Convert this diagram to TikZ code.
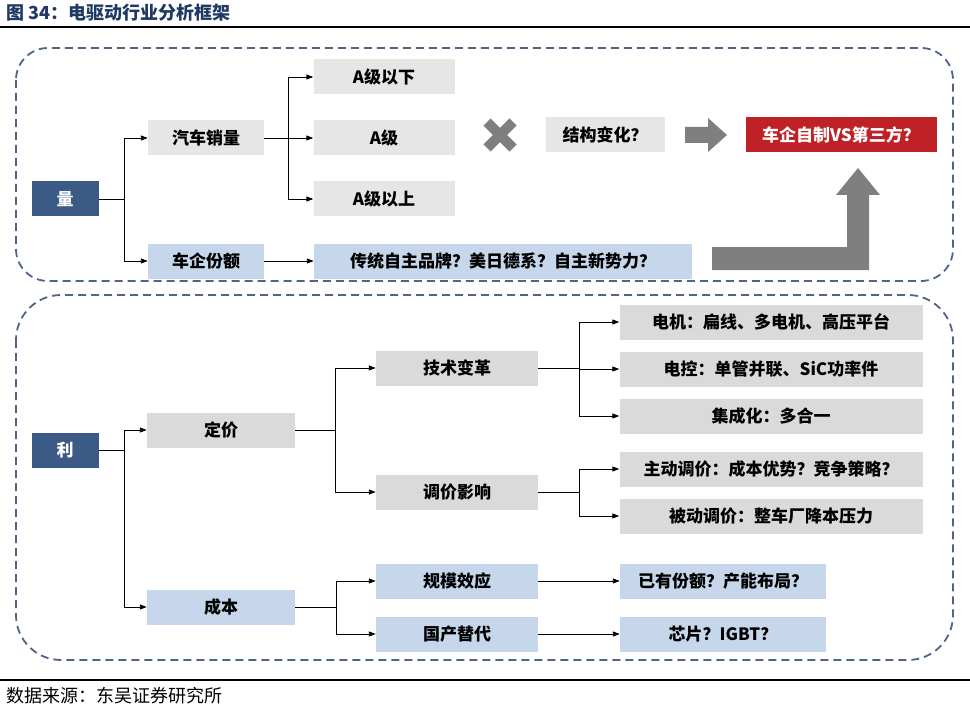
\documentclass[tikz,border=0pt]{standalone}
\usepackage{fontspec}
\setmainfont{Noto Sans CJK SC}
\usetikzlibrary{arrows.meta}
\definecolor{cNavy}{HTML}{3B5A85}
\definecolor{cLB}{HTML}{C6D7EC}
\definecolor{cG1}{HTML}{E6E6E6}
\definecolor{cG2}{HTML}{DADADA}
\definecolor{cRed}{HTML}{BE2126}
\definecolor{cArr}{HTML}{7F7F7F}
\definecolor{cDash}{HTML}{4F6585}
\definecolor{cTitle}{HTML}{1F3864}
\tikzset{
  box/.style={inner sep=0pt,minimum height=35pt,font=\fontsize{17}{17}\selectfont\bfseries},
  gbox/.style={box,fill=cG1},
  dbox/.style={box,fill=cG2},
  lbox/.style={box,fill=cLB},
  nbox/.style={box,fill=cNavy,text=white,minimum width=67pt},
  conn/.style={line width=.9pt,-{Triangle[length=7pt,width=5pt]}},
  seg/.style={line width=.9pt},
  frame/.style={draw=cDash,line width=1.8pt,dash pattern=on 8pt off 5pt},
}
\begin{document}
\begin{tikzpicture}[x=1pt,y=-1pt]
\useasboundingbox (0,0) rectangle (970,706);
% --- header and footer ---
\node[anchor=west,text=cTitle,font=\fontsize{18}{18}\selectfont\bfseries] (title) at (3,13) {图 34：电驱动行业分析框架};
\draw[line width=2pt] (0,27) -- (970,27);
\draw[line width=2pt] (0,680) -- (970,680);
\node[anchor=west,font=\fontsize{18}{18}\selectfont] (src) at (3,696) {数据来源：东吴证券研究所};
% --- frames ---
\draw[frame,rounded corners=32pt] (16,48) rectangle (953,281);
\draw[frame,rounded corners=45pt] (16,295) rectangle (953,660);
% --- top: volume ---
\node[nbox] (liang) at (65,199) {量};
\node[gbox,minimum width=116pt] (qcxl) at (206,138) {汽车销量};
\node[lbox,minimum width=116pt] (cqfe) at (206,261) {车企份额};
\node[gbox,minimum width=141pt] (ajx) at (384,77) {A级以下};
\node[gbox,minimum width=141pt] (aj) at (384,138) {A级};
\node[gbox,minimum width=141pt] (ajs) at (384,199) {A级以上};
\node[lbox,minimum width=378pt] (pp) at (503,261) {传统自主品牌？美日德系？自主新势力？};
\node[gbox,minimum width=119pt] (jg) at (605,135) {结构变化？};
\node[box,fill=cRed,text=white,minimum width=191pt] (zz) at (841,135) {车企自制VS第三方？};
\coordinate (j1) at (124,199);
\coordinate (j2) at (288,138);
\draw[seg] (liang) -- (j1);
\draw[conn] (j1) |- (qcxl);
\draw[conn] (j1) |- (cqfe);
\draw[seg] (qcxl) -- (j2);
\foreach \t in {ajx,aj,ajs}{\draw[conn] (j2) |- (\t);}
\draw[conn] (cqfe) -- (pp);
% cross and block arrows
\draw[cArr,line width=10pt] (487,122) -- (513,148) (487,148) -- (513,122);
\fill[cArr] (685,127) -- (708,127) -- (708,118) -- (727,135) -- (708,152) -- (708,143) -- (685,143) -- cycle;
\fill[cArr] (712,247) -- (847,247) -- (847,195) -- (836,195) -- (858,168) -- (880,195) -- (869,195) -- (869,270) -- (712,270) -- cycle;
% --- bottom: profit ---
\node[nbox] (li) at (65,450) {利};
\node[dbox,minimum width=148pt] (dj) at (221,430) {定价};
\node[lbox,minimum width=148pt] (cb) at (221,607) {成本};
\node[dbox,minimum width=162pt] (js) at (457,368) {技术变革};
\node[dbox,minimum width=162pt] (tj) at (457,492) {调价影响};
\node[lbox,minimum width=162pt] (gm) at (457,581) {规模效应};
\node[lbox,minimum width=162pt] (gc) at (457,634) {国产替代};
\node[dbox,minimum width=303pt] (dm) at (771,322) {电机：扁线、多电机、高压平台};
\node[dbox,minimum width=303pt] (dk) at (771,369) {电控：单管并联、SiC功率件};
\node[dbox,minimum width=303pt] (jc) at (771,416) {集成化：多合一};
\node[dbox,minimum width=303pt] (zd) at (771,469) {主动调价：成本优势？竞争策略？};
\node[dbox,minimum width=303pt] (bd) at (771,516) {被动调价：整车厂降本压力};
\node[lbox,minimum width=206pt] (yy) at (723,581) {已有份额？产能布局？};
\node[lbox,minimum width=206pt] (xp) at (723,634) {芯片？IGBT？};
\coordinate (j3) at (124,450);
\coordinate (j4) at (335,430);
\coordinate (j5) at (579,368);
\coordinate (j6) at (579,492);
\coordinate (j7) at (336,607);
\draw[seg] (li) -- (j3);
\draw[conn] (j3) |- (dj);
\draw[conn] (j3) |- (cb);
\draw[seg] (dj) -- (j4);
\draw[conn] (j4) |- (js);
\draw[conn] (j4) |- (tj);
\draw[seg] (js) -- (j5);
\foreach \t in {dm,dk,jc}{\draw[conn] (j5) |- (\t);}
\draw[seg] (tj) -- (j6);
\foreach \t in {zd,bd}{\draw[conn] (j6) |- (\t);}
\draw[seg] (cb) -- (j7);
\draw[conn] (j7) |- (gm);
\draw[conn] (j7) |- (gc);
\draw[conn] (gm) -- (yy);
\draw[conn] (gc) -- (xp);
\end{tikzpicture}
\end{document}
